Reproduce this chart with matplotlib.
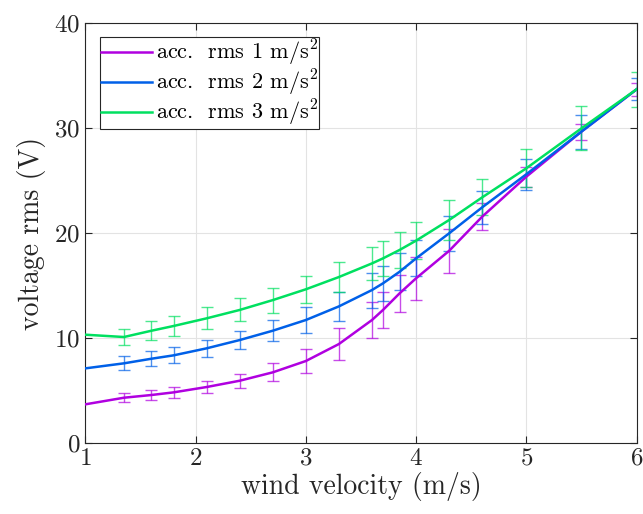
import numpy as np
import matplotlib
matplotlib.use("Agg")
import matplotlib.pyplot as plt

plt.rcParams['font.family'] = 'serif'
plt.rcParams['font.serif'] = ['cmr10']
plt.rcParams['mathtext.fontset'] = 'cm'
plt.rcParams['axes.formatter.use_mathtext'] = True

# wind velocity for the curves and for the error bars
x_line = [1.0, 1.35, 1.6, 1.8, 2.1, 2.4, 2.7, 3.0, 3.3, 3.6, 3.7, 3.85, 4.0, 4.3, 4.6, 5.0, 5.5, 6.0]

# voltage rms (V) for each acceleration level
v_acc1 = [3.66, 4.29, 4.55, 4.80, 5.31, 5.91, 6.71, 7.79, 9.41, 11.7, 12.66, 14.24, 15.68, 18.3, 21.56, 25.37, 29.67, 33.7]
v_acc2 = [7.09, 7.57, 8.01, 8.33, 9.0, 9.79, 10.68, 11.7, 13.0, 14.56, 15.2, 16.3, 17.58, 19.97, 22.45, 25.6, 29.67, 33.7]
v_acc3 = [10.3, 10.08, 10.68, 11.13, 11.86, 12.66, 13.6, 14.63, 15.8, 17.1, 17.58, 18.38, 19.27, 21.24, 23.4, 26.17, 29.98, 33.7]

# standard deviation (no bar at the first point)
e_acc1 = [0.43, 0.5, 0.5, 0.57, 0.68, 0.86, 1.13, 1.56, 1.73, 1.75, 1.78, 2.03, 2.1, 1.3, 0.95, 0.76, 0.6]
e_acc2 = [0.67, 0.72, 0.76, 0.81, 0.9, 1.0, 1.2, 1.4, 1.67, 1.7, 1.75, 1.72, 1.65, 1.6, 1.5, 1.62, 1.05]
e_acc3 = [0.8, 0.89, 0.92, 1.05, 1.1, 1.2, 1.29, 1.4, 1.6, 1.65, 1.72, 1.76, 1.89, 1.73, 1.81, 2.1, 1.7]

labels = [r'acc.  rms 1 m/s$^2$', r'acc.  rms 2 m/s$^2$', r'acc.  rms 3 m/s$^2$']
colors = ['#B000E0', '#0060E8', '#00E060']

fig = plt.figure(figsize=(6.43, 5.14), dpi=100)
ax = fig.add_axes([0.1327, 0.1387, 0.8573, 0.816])

for v, e, lab, c in zip([v_acc1, v_acc2, v_acc3], [e_acc1, e_acc2, e_acc3], labels, colors):
    ax.errorbar(x_line[1:], v[1:], yerr=e, fmt='none', ecolor=c, alpha=0.7,
                elinewidth=1.0, capsize=4, capthick=1.0, zorder=2)
    ax.plot(x_line, v, color=c, lw=1.8, label=lab, zorder=3)

ax.set_xlim(1, 6)
ax.set_ylim(0, 40)
ax.set_xticks([1, 2, 3, 4, 5, 6])
ax.set_yticks([0, 10, 20, 30, 40])
ax.grid(True, color='#e3e3e3', lw=0.8)
ax.set_axisbelow(True)
ax.tick_params(direction='in', top=True, right=True, labelsize=18, colors='#262626', length=5)
for s in ax.spines.values():
    s.set_color('#262626')
ax.set_xlabel('wind velocity (m/s)', fontsize=20, color='#262626', labelpad=2)
ax.set_ylabel('voltage rms (V)', fontsize=20, color='#262626', labelpad=6)

leg = ax.legend(loc='upper left', fontsize=16, fancybox=False, framealpha=1,
                edgecolor='#262626', handlelength=2.3, handletextpad=0.15,
                borderpad=0.05, labelspacing=0.0, borderaxespad=0,
                bbox_to_anchor=(0.027, 0.967))
leg.get_frame().set_linewidth(0.8)

fig.savefig('out.png', dpi=100)
